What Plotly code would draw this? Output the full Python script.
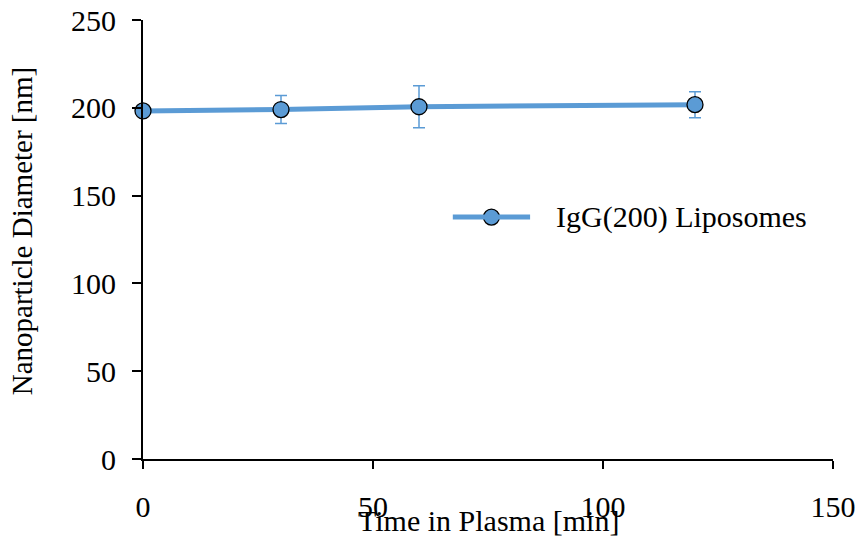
import plotly.graph_objects as go

time_min = [0, 30, 60, 120]
diameter_nm = [198.2, 199.0, 200.6, 201.8]
diameter_err = [1.5, 8.0, 12.0, 7.4]
series_name = "IgG(200) Liposomes"
x_ticks = [0, 50, 100, 150]
y_ticks = [0, 50, 100, 150, 200, 250]

blue = "#5B9BD5"
font_family = "Liberation Serif, Times New Roman, serif"
fs = 30

fig = go.Figure()
fig.add_trace(go.Scatter(
    x=time_min, y=diameter_nm, mode="lines+markers", name=series_name,
    line=dict(color=blue, width=5),
    marker=dict(size=16, color=blue, line=dict(color="black", width=1.3)),
    error_y=dict(type="data", array=diameter_err, visible=True, color=blue,
                 thickness=1.5, width=6),
    showlegend=False, cliponaxis=False,
))

# custom legend entry (long line sample like the original)
lx0, lx1, ly = 0.449, 0.561, 0.551
fig.add_shape(type="line", xref="paper", yref="paper", x0=lx0, x1=lx1, y0=ly, y1=ly,
              line=dict(color=blue, width=5))
fig.add_trace(go.Scatter(
    x=[(lx0 + lx1) / 2], y=[ly], xaxis="x2", yaxis="y2", mode="markers",
    marker=dict(size=16, color=blue, line=dict(color="black", width=1.3)),
    showlegend=False, hoverinfo="skip", cliponaxis=False,
))
fig.add_annotation(x=lx1 + 0.035, y=ly, xref="paper", yref="paper", text=series_name,
                   showarrow=False, xanchor="left", yanchor="middle",
                   font=dict(family=font_family, size=fs, color="black"))

# axis titles (placed as in the original, overlapping the x tick labels)
fig.add_annotation(x=0.5, y=-0.139, xref="paper", yref="paper", text="Time in Plasma [min]",
                   showarrow=False, xanchor="center", yanchor="middle",
                   font=dict(family=font_family, size=fs, color="black"))
fig.add_annotation(x=-0.176, y=0.52, xref="paper", yref="paper",
                   text="Nanoparticle Diameter [nm]", textangle=-90,
                   showarrow=False, xanchor="center", yanchor="middle",
                   font=dict(family=font_family, size=fs - 1, color="black"))

fig.update_layout(
    width=859, height=537,
    margin=dict(l=143, r=26, t=20, b=78),
    paper_bgcolor="white", plot_bgcolor="white",
    font=dict(family=font_family, size=fs, color="black"),
    xaxis=dict(range=[0, 150], tickvals=x_ticks, showgrid=False, zeroline=False,
               showline=True, linecolor="black", linewidth=2, automargin=False,
               ticks="outside", ticklen=8, tickwidth=1.5, tickcolor="black",
               ticklabelstandoff=12),
    yaxis=dict(range=[0, 250], tickvals=y_ticks, showgrid=False, zeroline=False,
               showline=True, linecolor="black", linewidth=2, automargin=False,
               ticks="outside", ticklen=9, tickwidth=1.5, tickcolor="black",
               ticklabelstandoff=10),
    xaxis2=dict(range=[0, 1], domain=[0, 1], visible=False, overlaying="x"),
    yaxis2=dict(range=[0, 1], domain=[0, 1], visible=False, overlaying="y"),
)

fig.write_html("out.html")
